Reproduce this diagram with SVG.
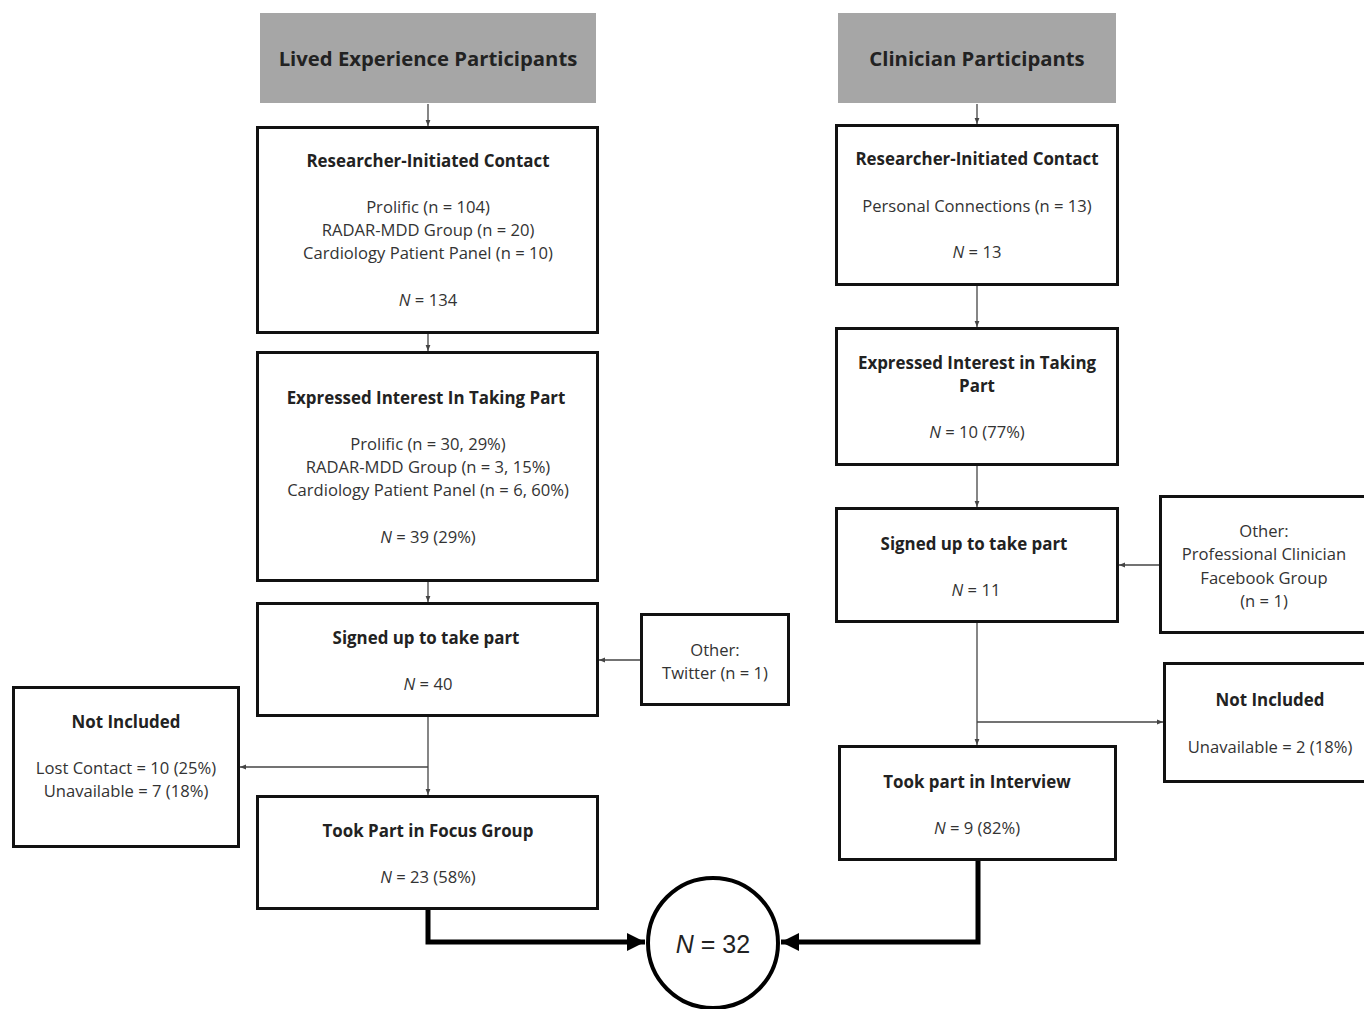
<svg xmlns="http://www.w3.org/2000/svg" width="1364" height="1009" viewBox="0 0 1364 1009">
<defs>
<style>
.hdr{fill:#a6a6a6;stroke:none}
.box{fill:#fff;stroke:#111;stroke-width:3}
.t{font-family:"Open Sans","Liberation Sans",sans-serif;font-size:16.6px;fill:#333;text-anchor:middle;dominant-baseline:central}
.b{font-weight:bold;fill:#222;font-size:16.9px}
.h{font-family:"Open Sans","Liberation Sans",sans-serif;font-size:20.3px;font-weight:bold;fill:#222;text-anchor:middle;dominant-baseline:central}
.thin{fill:none;stroke:#444;stroke-width:1.3}
.thick{fill:none;stroke:#000;stroke-width:5}
</style>
<marker id="a" viewBox="0 0 10 10" refX="10" refY="5" markerWidth="6" markerHeight="6" orient="auto" markerUnits="userSpaceOnUse">
<path d="M0,1 L10,5 L0,9 z" fill="#444"/>
</marker>
<marker id="A" viewBox="0 0 10 10" refX="10" refY="5" markerWidth="18" markerHeight="20" orient="auto" markerUnits="userSpaceOnUse">
<path d="M0,0 L10,5 L0,10 z" fill="#000"/>
</marker>
</defs>
<rect width="1364" height="1009" fill="#fff"/>

<g id="connectors">
<path class="thin" d="M428,104 V126" marker-end="url(#a)"/>
<path class="thin" d="M428,334 V351" marker-end="url(#a)"/>
<path class="thin" d="M428,582 V602" marker-end="url(#a)"/>
<path class="thin" d="M428,717 V795" marker-end="url(#a)"/>
<path class="thin" d="M428,767 H240" marker-end="url(#a)"/>
<path class="thin" d="M641,660 H599" marker-end="url(#a)"/>
<path class="thin" d="M977,104 V124" marker-end="url(#a)"/>
<path class="thin" d="M977,286 V327" marker-end="url(#a)"/>
<path class="thin" d="M977,466 V507" marker-end="url(#a)"/>
<path class="thin" d="M977,623 V745" marker-end="url(#a)"/>
<path class="thin" d="M977,722 H1163" marker-end="url(#a)"/>
<path class="thin" d="M1160,565 H1119" marker-end="url(#a)"/>
<path class="thick" d="M428,909 V942 H645" marker-end="url(#A)"/>
<path class="thick" d="M978,860 V942 H781" marker-end="url(#A)"/>
</g>

<g id="hdr-lived">
<rect class="hdr" x="260" y="13" width="336" height="90"/>
<text class="h" x="428" y="58">Lived Experience Participants</text>
</g>
<g id="hdr-clin">
<rect class="hdr" x="838" y="13" width="278" height="90"/>
<text class="h" x="977" y="58">Clinician Participants</text>
</g>

<g id="l-contact">
<rect class="box" x="257.5" y="127.5" width="340" height="205"/>
<text class="t b" x="428" y="160">Researcher-Initiated Contact</text>
<text class="t" x="428" y="206">Prolific (n = 104)</text>
<text class="t" x="428" y="229">RADAR-MDD Group (n = 20)</text>
<text class="t" x="428" y="252">Cardiology Patient Panel (n = 10)</text>
<text class="t" x="428" y="299"><tspan font-style="italic">N</tspan> = 134</text>
</g>

<g id="l-interest">
<rect class="box" x="257.5" y="352.5" width="340" height="228"/>
<text class="t b" x="426" y="397">Expressed Interest In Taking Part</text>
<text class="t" x="428" y="443">Prolific (n = 30, 29%)</text>
<text class="t" x="428" y="466">RADAR-MDD Group (n = 3, 15%)</text>
<text class="t" x="428" y="489">Cardiology Patient Panel (n = 6, 60%)</text>
<text class="t" x="428" y="536"><tspan font-style="italic">N</tspan> = 39 (29%)</text>
</g>

<g id="l-signed">
<rect class="box" x="257.5" y="603.5" width="340" height="112"/>
<text class="t b" x="426" y="637">Signed up to take part</text>
<text class="t" x="428" y="683"><tspan font-style="italic">N</tspan> = 40</text>
</g>

<g id="l-twitter">
<rect class="box" x="641.5" y="614.5" width="147" height="90"/>
<text class="t" x="715" y="649">Other:</text>
<text class="t" x="715" y="672">Twitter (n = 1)</text>
</g>

<g id="l-notincluded">
<rect class="box" x="13.5" y="687.5" width="225" height="159"/>
<text class="t b" x="126" y="721">Not Included</text>
<text class="t" x="126" y="767">Lost Contact = 10 (25%)</text>
<text class="t" x="126" y="790">Unavailable = 7 (18%)</text>
</g>

<g id="l-focus">
<rect class="box" x="257.5" y="796.5" width="340" height="112"/>
<text class="t b" x="428" y="830">Took Part in Focus Group</text>
<text class="t" x="428" y="876"><tspan font-style="italic">N</tspan> = 23 (58%)</text>
</g>

<g id="r-contact">
<rect class="box" x="836.5" y="125.5" width="281" height="159"/>
<text class="t b" x="977" y="158">Researcher-Initiated Contact</text>
<text class="t" x="977" y="205">Personal Connections (n = 13)</text>
<text class="t" x="977" y="251"><tspan font-style="italic">N</tspan> = 13</text>
</g>

<g id="r-interest">
<rect class="box" x="836.5" y="328.5" width="281" height="136"/>
<text class="t b" x="977" y="362">Expressed Interest in Taking</text>
<text class="t b" x="977" y="385">Part</text>
<text class="t" x="977" y="431"><tspan font-style="italic">N</tspan> = 10 (77%)</text>
</g>

<g id="r-signed">
<rect class="box" x="836.5" y="508.5" width="281" height="113"/>
<text class="t b" x="974" y="543">Signed up to take part</text>
<text class="t" x="976" y="589"><tspan font-style="italic">N</tspan> = 11</text>
</g>

<g id="r-facebook">
<rect class="box" x="1160.5" y="496.5" width="210" height="136"/>
<text class="t" x="1264" y="530">Other:</text>
<text class="t" x="1264" y="553">Professional Clinician</text>
<text class="t" x="1264" y="577">Facebook Group</text>
<text class="t" x="1264" y="600">(n = 1)</text>
</g>

<g id="r-notincluded">
<rect class="box" x="1164.5" y="663.5" width="210" height="118"/>
<text class="t b" x="1270" y="699">Not Included</text>
<text class="t" x="1270" y="746">Unavailable = 2 (18%)</text>
</g>

<g id="r-interview">
<rect class="box" x="839.5" y="746.5" width="276" height="113"/>
<text class="t b" x="977" y="781">Took part in Interview</text>
<text class="t" x="977" y="827"><tspan font-style="italic">N</tspan> = 9 (82%)</text>
</g>

<g id="total">
<circle cx="713" cy="943" r="65" fill="#fff" stroke="#000" stroke-width="4"/>
<text x="713" y="944" font-family="'Liberation Sans',Arial,sans-serif" font-size="25" fill="#222" text-anchor="middle" dominant-baseline="central"><tspan font-style="italic">N</tspan> = 32</text>
</g>
</svg>
